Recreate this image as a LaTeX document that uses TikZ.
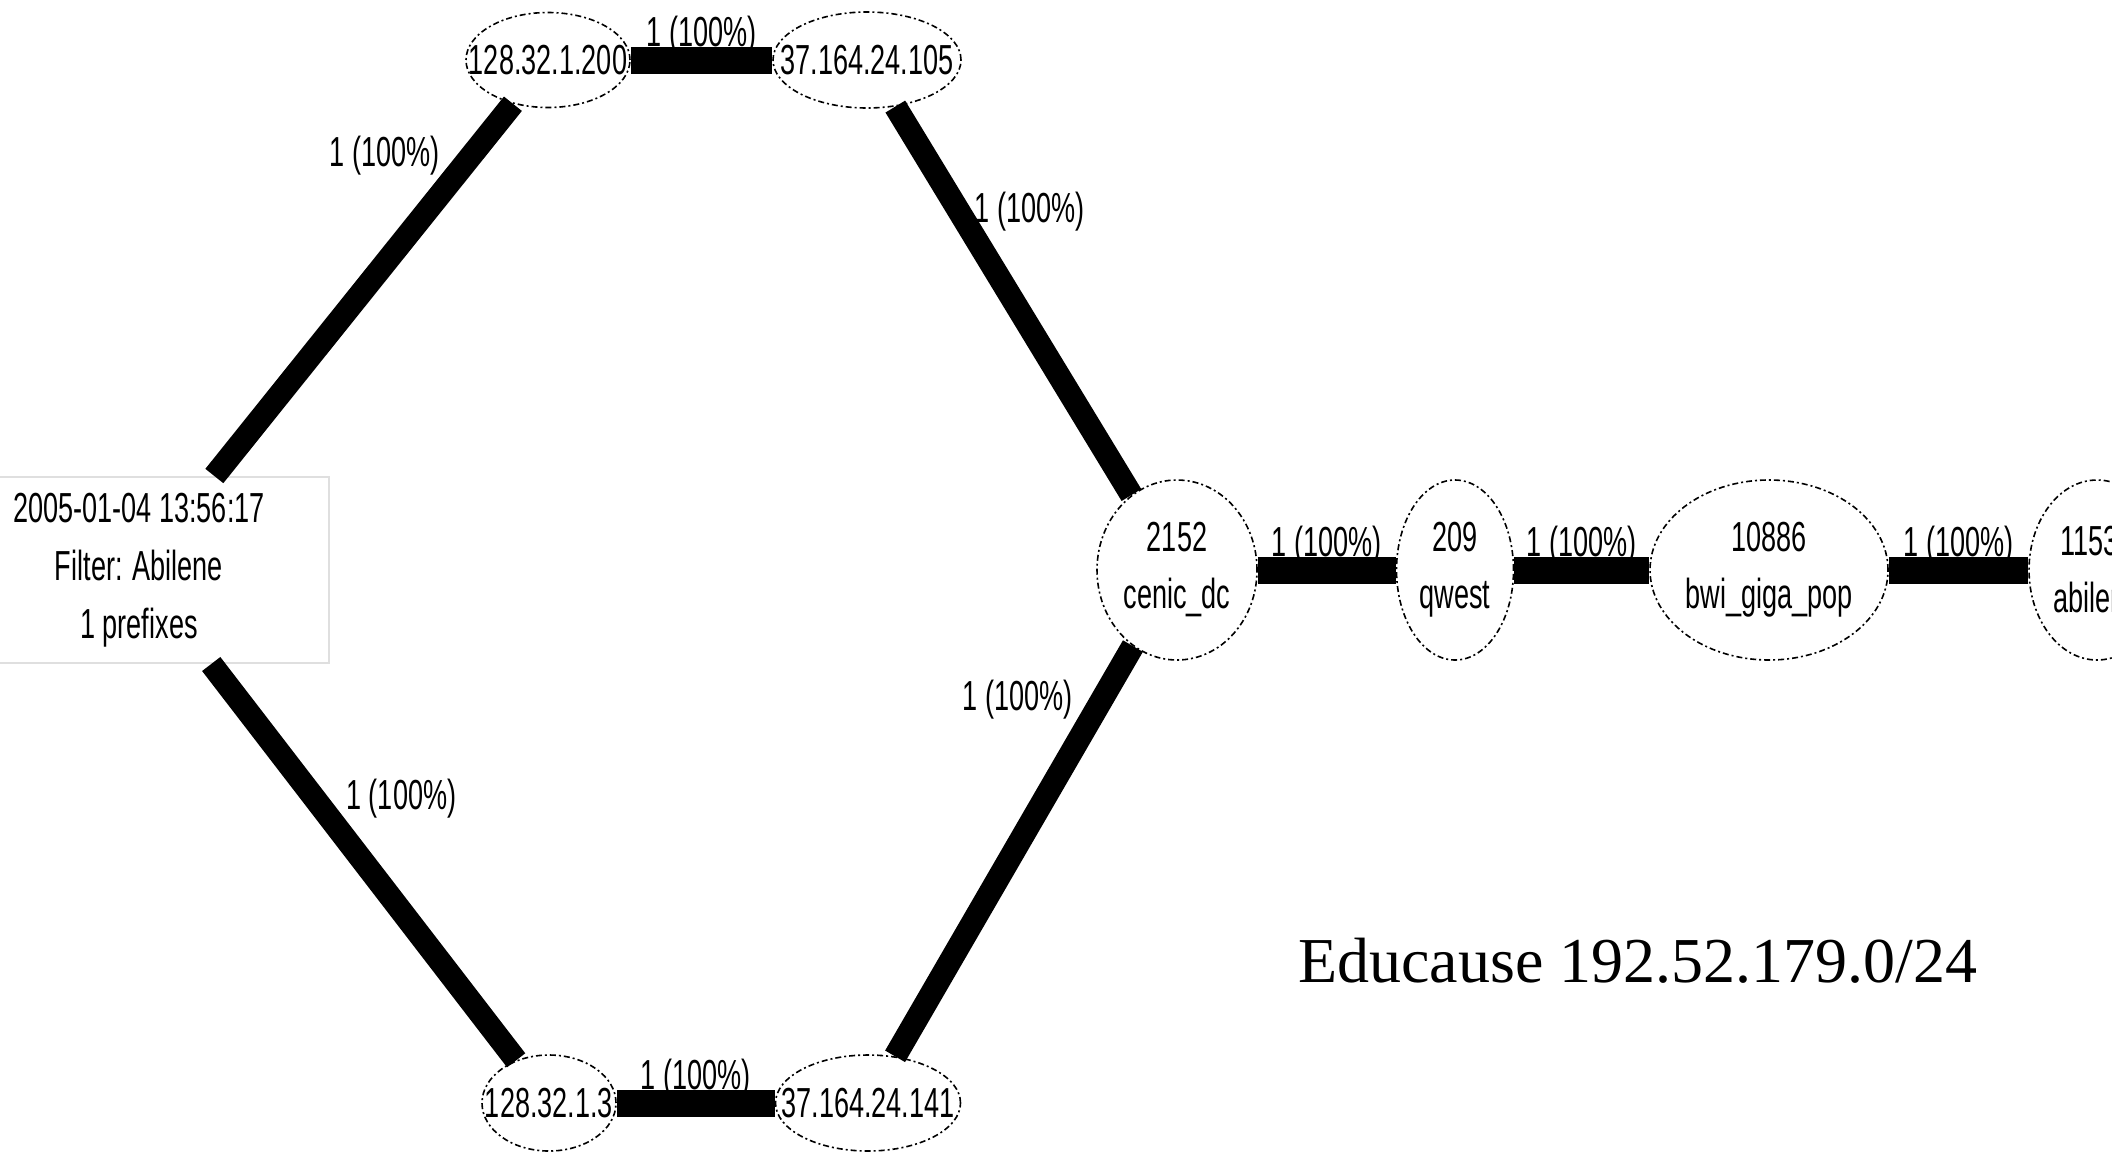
\documentclass[tikz,border=0pt]{standalone}
\usepackage{fontspec}
\setmainfont{Liberation Serif}
\newfontfamily\graphfont[FakeStretch=0.645]{Liberation Sans}
\usetikzlibrary{shapes.geometric}
\newcommand{\aslbl}[1]{\makebox[0pt]{#1}}

\begin{document}
\begin{tikzpicture}[x=0.5pt,y=0.5pt,yscale=-1,xscale=1,
  asnode/.style={draw, ellipse, line width=0.8pt, dash pattern=on 3pt off 1.5pt on 1pt off 1.5pt,
    inner sep=0pt, align=center, font=\graphfont\fontsize{21}{28.5}\selectfont},
  infobox/.style={draw=gray!25, line width=1pt, minimum width=190pt, minimum height=93pt,
    align=center, font=\graphfont\fontsize{21}{29}\selectfont},
  lbl/.style={inner sep=0pt, font=\graphfont\fontsize{21}{28}\selectfont},
  hbar/.style={line width=13.5pt},
  dbar/.style={line width=11.5pt}]
\useasboundingbox (0,0) rectangle (2112,1151);

%Shape: Ellipse [ip nodes, top row]
\node[asnode, minimum width=82pt, minimum height=47.5pt] (ip200) at (548,60) {\aslbl{128.32.1.200}};
\node[asnode, minimum width=94pt, minimum height=48pt] (ip105) at (867,60) {\aslbl{37.164.24.105}};
%Shape: Ellipse [ip nodes, bottom row]
\node[asnode, minimum width=67pt, minimum height=48pt] (ip3) at (549,1103) {\aslbl{128.32.1.3}};
\node[asnode, minimum width=92.5pt, minimum height=48pt] (ip141) at (868,1103) {\aslbl{37.164.24.141}};
%Shape: Ellipse [AS nodes]
\node[asnode, minimum width=80pt, minimum height=90pt] (cenic) at (1177,570) {\aslbl{2152}\\\aslbl{cenic\_dc}};
\node[asnode, minimum width=58.5pt, minimum height=90pt] (qwest) at (1455,570) {\aslbl{209}\\\aslbl{qwest}};
\node[asnode, minimum width=119pt, minimum height=90pt] (bwi) at (1769,570) {\aslbl{10886}\\\aslbl{bwi\_giga\_pop}};
\node[asnode, minimum width=68pt, minimum height=90pt] (abilene) at (2097,570) {\aslbl{11537}\\\aslbl{abilene}};

% Text Node
\node[infobox] (info) at (139,570) {2005-01-04 13:56:17\\Filter: Abilene\\1 prefixes};
% Text Node
\node[anchor=base west, inner sep=0pt, font=\fontsize{32}{38}\selectfont] (title) at (1298,982) {Educause 192.52.179.0/24};

%Straight Lines [hexagon]
\draw[dbar] (info) -- node[lbl, pos=0.86, anchor=east, xshift=-10pt] {1 (100\%)} (ip200);
\draw[hbar] (ip200) -- node[lbl, midway, anchor=base, yshift=7pt] {1 (100\%)} (ip105);
\draw[dbar] (ip105) -- node[lbl, pos=0.27, anchor=west, xshift=2pt] {1 (100\%)} (cenic);
\draw[dbar] (info) -- node[lbl, pos=0.34, anchor=west, xshift=10pt] {1 (100\%)} (ip3);
\draw[hbar] (ip3) -- node[lbl, midway, anchor=base, yshift=7pt] {1 (100\%)} (ip141);
\draw[dbar] (ip141) -- node[lbl, pos=0.87, anchor=east, xshift=-9pt] {1 (100\%)} (cenic);
%Straight Lines [AS path]
\draw[hbar] (cenic) -- node[lbl, midway, anchor=base, yshift=7pt] {1 (100\%)} (qwest);
\draw[hbar] (qwest) -- node[lbl, midway, anchor=base, yshift=7pt] {1 (100\%)} (bwi);
\draw[hbar] (bwi) -- node[lbl, midway, anchor=base, yshift=7pt] {1 (100\%)} (abilene);

\end{tikzpicture}
\end{document}
